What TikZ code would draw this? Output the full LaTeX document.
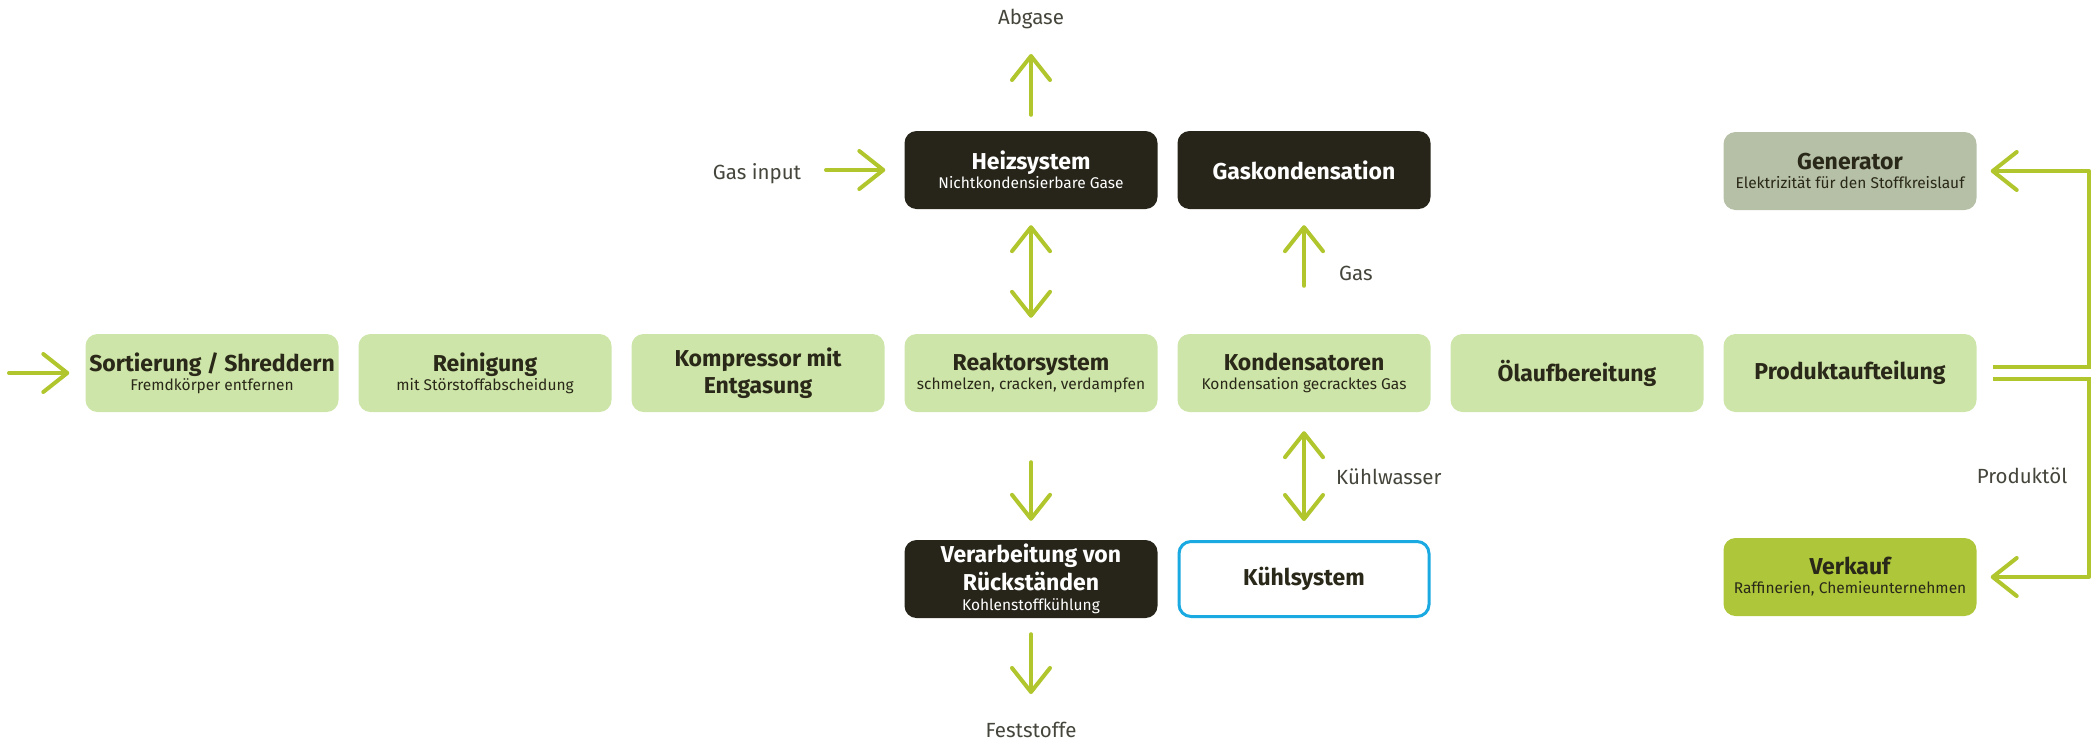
\documentclass[tikz,border=0pt]{standalone}
\usepackage{fontspec}
\setmainfont{Fira Sans}
\usetikzlibrary{arrows.meta}
\definecolor{lg}{HTML}{CDE5A8}
\definecolor{dk}{HTML}{27251A}
\definecolor{gen}{HTML}{B5C0A6}
\definecolor{verk}{HTML}{AEC73A}
\definecolor{ac}{HTML}{B0C62C}
\definecolor{txt}{HTML}{2A2818}
\definecolor{lbl}{HTML}{45453C}
\definecolor{blu}{HTML}{1BA9E1}
\newcommand{\ttl}[1]{{\fontsize{23}{23}\selectfont\bfseries #1}}
\newcommand{\sbt}[1]{{\fontsize{15.5}{23}\selectfont #1}}
\tikzset{
  box/.style={rounded corners=12pt, minimum width=253pt, minimum height=78pt, inner sep=0pt, align=center, text=txt, font=\fontsize{15.5}{23}\selectfont},
  lbox/.style={box, fill=lg},
  dbox/.style={box, fill=dk, text=white},
  lab/.style={text=lbl, font=\fontsize{20.5}{24}\selectfont, inner sep=0pt},
  arr/.style={draw=ac, line width=4pt, line cap=round, -{Straight Barb[length=24pt, width=38pt, round]}},
  darr/.style={draw=ac, line width=4pt, line cap=round, {Straight Barb[length=24pt, width=38pt, round]}-{Straight Barb[length=24pt, width=38pt, round]}},
  conn/.style={draw=ac, line width=4pt}
}
\begin{document}
\begin{tikzpicture}[x=1pt, y=-1pt]
\useasboundingbox (0,0) rectangle (2100,740);
% main row
\node[lbox] (s1) at (212,373) {\ttl{Sortierung / Shreddern}\\[-4pt]\sbt{Fremdkörper entfernen}};
\node[lbox] (s2) at (485,373) {\ttl{Reinigung}\\[-4pt]\sbt{mit Störstoffabscheidung}};
\node[lbox] (s3) at (758,373) {\ttl{Kompressor mit}\\[4pt]\ttl{Entgasung}};
\node[lbox] (s4) at (1031,373) {\ttl{Reaktorsystem}\\[-4pt]\sbt{schmelzen, cracken, verdampfen}};
\node[lbox] (s5) at (1304,373) {\ttl{Kondensatoren}\\[-4pt]\sbt{Kondensation gecracktes Gas}};
\node[lbox] (s6) at (1577,373) {\ttl{Ölaufbereitung}};
\node[lbox] (s7) at (1850,373) {\ttl{Produktaufteilung}};
% top row
\node[dbox] (heiz) at (1031,170) {\ttl{Heizsystem}\\[-4pt]\sbt{Nichtkondensierbare Gase}};
\node[dbox] (gask) at (1304,170) {\ttl{Gaskondensation}};
\node[box, fill=gen] (gen) at (1850,171) {\ttl{Generator}\\[-4pt]\sbt{Elektrizität für den Stoffkreislauf}};
% bottom row
\node[dbox] (verarb) at (1031,579) {\ttl{Verarbeitung von}\\[3pt]\ttl{Rückständen}\\[-3pt]\sbt{Kohlenstoffkühlung}};
\node[box, draw=blu, line width=3pt, fill=white, minimum width=250pt, minimum height=75pt] (kuehl) at (1304,579) {\ttl{Kühlsystem}};
\node[box, fill=verk] (verk) at (1850,577) {\ttl{Verkauf}\\[-4pt]\sbt{Raffinerien, Chemieunternehmen}};
% labels
\node[lab] (abg) at (1031,19) {Abgase};
\node[lab] (gin) at (757,174) {Gas input};
\node[lab, anchor=west] (gas) at (1339,273) {Gas};
\node[lab, anchor=west] (kw) at (1336,477) {Kühlwasser};
\node[lab] (fest) at (1031,730) {Feststoffe};
\node[lab] (pol) at (2022,476) {Produktöl};
% free ends
\coordinate (in0) at (9,373);
\coordinate (abgtip) at (1031,54);
\coordinate (gin0) at (826,170);
\coordinate (festtip) at (1031,694);
\coordinate (rx) at (2089,0);
% connectors
\draw[arr, shorten >=16pt] (in0) -- (s1.west);
\draw[arr, shorten <=16pt] (heiz.north) -- (abgtip);
\draw[arr, shorten >=19pt] (gin0) -- (heiz.west);
\draw[darr, shorten <=16pt, shorten >=16pt] (heiz.south) -- (s4.north);
\draw[arr, shorten <=48pt, shorten >=16pt] (s5.north) -- (gask.south);
\draw[arr, shorten <=50pt, shorten >=19pt] (s4.south) -- (verarb.north);
\draw[darr, shorten <=19pt, shorten >=19pt] (s5.south) -- (kuehl.north);
\draw[arr, shorten <=16pt] (verarb.south) -- (festtip);
\draw[conn, shorten <=16pt] ([yshift=6pt]s7.east) -- ([yshift=6pt]s7.east -| rx) -- (gen.east -| rx);
\draw[arr, shorten >=14pt] (gen.east -| rx) -- (gen.east);
\draw[conn, shorten <=16pt] ([yshift=-6pt]s7.east) -- ([yshift=-6pt]s7.east -| rx) -- (verk.east -| rx);
\draw[arr, shorten >=14pt] (verk.east -| rx) -- (verk.east);
\end{tikzpicture}
\end{document}
